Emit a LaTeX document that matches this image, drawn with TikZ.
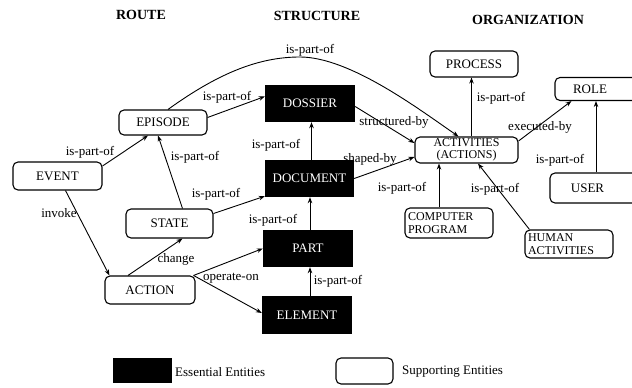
\documentclass[tikz,border=0pt]{standalone}
\usepackage{fontspec}
\setmainfont{Liberation Serif}
\usetikzlibrary{arrows.meta}
\begin{document}
\begin{tikzpicture}[x=1pt,y=-1pt,
  sbox/.style={draw, line width=1.1pt, rounded corners=5pt, fill=white, inner sep=2pt,
    font=\fontsize{13}{11}\selectfont},
  twoline/.style={font=\fontsize{12}{12.5}\selectfont, inner ysep=0.5pt},
  ebox/.style={fill=black, text=white, inner sep=2pt, font=\fontsize{13}{11}\selectfont},
  lbl/.style={font=\fontsize{13}{13}\selectfont, inner sep=0pt},
  hdr/.style={font=\bfseries\fontsize{14}{16}\selectfont, inner sep=0pt},
  arr/.style={-{Stealth[length=6pt,width=4.5pt]}, line width=0.9pt}]
\useasboundingbox (0,0) rectangle (632,388);

% headers
\node[hdr] (hroute) at (141,15) {ROUTE};
\node[hdr] (hstruct) at (317,16) {STRUCTURE};
\node[hdr] (horg) at (528,20) {ORGANIZATION};

% route nodes
\node[sbox, minimum width=88pt, minimum height=25pt] (episode) at (163,122.5) {EPISODE};
\node[sbox, minimum width=89pt, minimum height=28pt] (event) at (57.5,176) {EVENT};
\node[sbox, minimum width=87pt, minimum height=29pt] (state) at (169.5,223.5) {STATE};
\node[sbox, minimum width=90pt, minimum height=28pt] (action) at (150,290) {ACTION};

% structure nodes
\node[ebox, minimum width=90pt, minimum height=37pt] (dossier) at (310,103.5) {DOSSIER};
\node[ebox, minimum width=89pt, minimum height=37pt] (document) at (309.5,178.5) {DOCUMENT};
\node[ebox, minimum width=90pt, minimum height=37pt] (part) at (308,248.5) {PART};
\node[ebox, minimum width=90pt, minimum height=38pt] (element) at (307,315) {ELEMENT};

% organization nodes
\node[sbox, minimum width=88pt, minimum height=26pt] (process) at (474,64) {PROCESS};
\node[sbox, minimum width=90pt, minimum height=23pt] (role) at (600,89) {ROLE\hspace*{20pt}};
\node[sbox, minimum width=95pt, minimum height=30pt] (user) at (597.5,188) {USER\hspace*{20pt}};
\node[sbox, twoline, minimum width=103pt, minimum height=26pt, align=center] (activities) at (466.5,150) {ACTIVITIES\\(ACTIONS)};
\node[sbox, twoline, text width=82pt, inner xsep=3pt, align=left, minimum height=30pt] (computer) at (449,223) {COMPUTER\\PROGRAM};
\node[sbox, twoline, text width=82pt, inner xsep=3pt, align=left, minimum height=28pt] (human) at (569,244) {HUMAN\\ACTIVITIES};

% connectors
\draw[arr] ([yshift=10pt]event.east) -- ([xshift=-15pt]episode.south);
\draw[arr] ([yshift=5pt]episode.east) -- ([yshift=7pt]dossier.west);
\draw[arr] ([xshift=5pt]episode.north) .. controls (220,72) and (260,57) .. (300,57)
  .. controls (350,57) and (420,110) .. ([xshift=-8pt]activities.north);
\draw[arr] ([xshift=13pt]state.north) -- ([xshift=-5pt]episode.south);
\draw[arr] ([yshift=10pt]state.east) -- ([yshift=1pt]document.south west);
\draw[arr] ([xshift=2pt]document.north) -- ([xshift=2pt]document.north |- dossier.south);
\draw[arr] ([xshift=2pt]part.north) -- ([xshift=2pt]part.north |- document.south);
\draw[arr] ([xshift=3pt]element.north) -- ([xshift=3pt]element.north |- part.south);
\draw[arr] ([xshift=8pt]event.south) -- ([xshift=5pt]action.north west);
\draw[arr] ([xshift=-22pt]action.north) -- ([xshift=13pt]state.south);
\draw[arr] ([xshift=-2pt]action.north east) -- (part.west);
\draw[arr] ([xshift=-2pt]action.north east) -- ([yshift=2pt]element.west);
\draw[arr] ([yshift=-3pt]dossier.east) -- ([yshift=7pt]activities.west);
\draw[arr] (document.east) -- ([yshift=-7pt]activities.west);
\draw[arr] ([xshift=5pt]activities.north) -- ([xshift=5pt]activities.north |- process.south);
\draw[arr] ([yshift=9pt]activities.east) -- ([xshift=17pt]role.south west);
\draw[arr] ([xshift=-1.5pt]user.north) -- ([xshift=-1.5pt]user.north |- role.south);
\draw[arr] ([xshift=-10pt]computer.north) -- ([xshift=-10pt]computer.north |- activities.south);
\draw[arr] ([xshift=5pt]human.north west) -- ([xshift=11.5pt]activities.south);

% connector labels
\node[lbl] (l1) at (90,152) {is-part-of};
\node[lbl] (l2) at (227,97) {is-part-of};
\node[lbl] (l3) at (310,50) {is-part-of};
\node[lbl] (l4) at (195,157) {is-part-of};
\node[lbl] (l5) at (216,194) {is-part-of};
\node[lbl] (l6) at (276,145) {is-part-of};
\node[lbl] (l7) at (273,220) {is-part-of};
\node[lbl] (l8) at (338,281) {is-part-of};
\node[lbl] (l9) at (59,213) {invoke};
\node[lbl] (l10) at (176,259) {change};
\node[lbl] (l11) at (231,278) {operate-on};
\node[lbl] (l12) at (394,122) {structured-by};
\node[lbl] (l13) at (370,159) {shaped-by};
\node[lbl] (l14) at (501,98) {is-part-of};
\node[lbl] (l15) at (540,127) {executed-by};
\node[lbl] (l16) at (560,160) {is-part-of};
\node[lbl] (l17) at (402,188) {is-part-of};
\node[lbl] (l18) at (495,189) {is-part-of};

% legend
\node[ebox, minimum width=59pt, minimum height=25pt] (legE) at (142.5,370.5) {};
\node[lbl, anchor=west] (legEt) at (175,372) {Essential Entities};
\node[sbox, minimum width=57pt, minimum height=26pt] (legS) at (364.5,371) {};
\node[lbl, anchor=west] (legSt) at (402,372) {Supporting Entities};
\end{tikzpicture}
\end{document}
